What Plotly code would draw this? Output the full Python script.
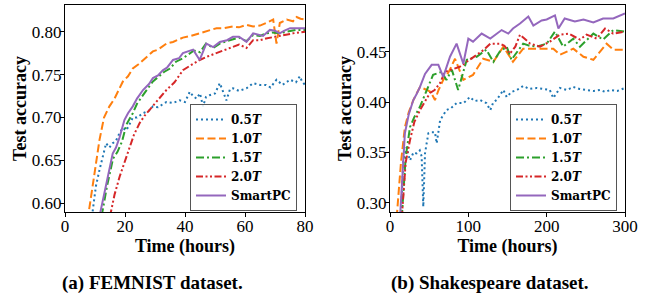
import plotly.graph_objects as go

# ---------------- FEMNIST data ----------------
fem_x_05 = [9, 10.3, 11.5, 12.6, 13.7, 14.8, 15.9, 17, 18.2, 19.3, 20.4, 21.5, 22.6, 24, 26, 28, 29.3, 31, 33.8, 36,
            38.2, 40, 41.6, 42.7, 43.8, 45, 46, 47, 48.2, 50, 51.6, 52.7, 53.8, 55, 56, 58, 60.5, 62.7, 65, 67,
            68.5, 70.5, 72.5, 75, 77, 78.3, 79, 80]
fem_y_05 = [0.585, 0.62, 0.639, 0.655, 0.67, 0.665, 0.67, 0.673, 0.682, 0.688, 0.685, 0.692, 0.70, 0.70, 0.705, 0.708,
            0.713, 0.712, 0.718, 0.717, 0.72, 0.718, 0.73, 0.725, 0.722, 0.728, 0.713, 0.724, 0.726, 0.728,
            0.74, 0.73, 0.72, 0.733, 0.734, 0.731, 0.734, 0.74, 0.738, 0.738, 0.735, 0.744, 0.738, 0.744, 0.741,
            0.748, 0.742, 0.738]
fem_x_10 = [7.5, 9.5, 11.5, 13, 14.8, 16.5, 18, 19.3, 21, 22.6, 24.5, 26, 28, 29.3, 31, 33.8, 36, 39.3, 42, 45,
            48, 50.5, 53, 56, 58, 60.5, 62.7, 65, 67, 69.4, 70.5, 71.6, 73.9, 76, 77.2, 78.5, 80]
fem_y_10 = [0.58, 0.63, 0.674, 0.70, 0.713, 0.722, 0.732, 0.742, 0.748, 0.757, 0.762, 0.767, 0.773, 0.777, 0.779,
            0.786, 0.788, 0.793, 0.795, 0.798, 0.801, 0.804, 0.804, 0.806, 0.805, 0.808, 0.806, 0.807, 0.81, 0.814,
            0.786, 0.81, 0.814, 0.812, 0.817, 0.815, 0.814]
fem_x_15 = [12.2, 14, 16, 17.5, 19, 20.5, 22.6, 24, 26, 28, 29.3, 31, 33, 35, 37, 39.3, 41, 43, 45, 47,
            49.4, 51.6, 54, 56, 58, 60.5, 62.7, 65, 67, 69, 71.6, 74, 77, 80]
fem_y_15 = [0.585, 0.62, 0.652, 0.66, 0.672, 0.692, 0.705, 0.716, 0.726, 0.736, 0.742, 0.747, 0.753, 0.757, 0.765,
            0.769, 0.773, 0.778, 0.776, 0.786, 0.781, 0.786, 0.789, 0.791, 0.793, 0.789, 0.796, 0.795, 0.798,
            0.799, 0.798, 0.8, 0.802, 0.802]
fem_x_20 = [15, 16.5, 18.2, 20, 21.5, 23, 24.8, 26.5, 28.2, 31, 33.8, 36.5, 39.3, 42, 44.9, 47.5, 50.5, 53, 56, 58,
            60.5, 62.7, 65, 67, 70, 72.8, 76, 80]
fem_y_20 = [0.585, 0.61, 0.631, 0.65, 0.666, 0.68, 0.693, 0.702, 0.709, 0.721, 0.732, 0.741, 0.755, 0.761, 0.767,
            0.771, 0.775, 0.779, 0.783, 0.785, 0.781, 0.79, 0.79, 0.792, 0.794, 0.796, 0.798, 0.80]
fem_x_sp = [11.5, 13.7, 15.9, 17, 18.2, 19.8, 21, 22.6, 24, 26, 28, 29.3, 31, 32.6, 34, 36, 38, 39.3, 41, 42.7,
            44.9, 47.1, 49.4, 51.6, 54, 56, 58, 60.5, 62.7, 64, 66, 68.3, 70, 71.6, 73, 75, 77, 80]
fem_y_sp = [0.585, 0.623, 0.658, 0.665, 0.677, 0.697, 0.705, 0.713, 0.722, 0.732, 0.739, 0.746, 0.749, 0.755,
            0.758, 0.767, 0.769, 0.775, 0.777, 0.779, 0.767, 0.786, 0.782, 0.788, 0.79, 0.794, 0.794, 0.788,
            0.798, 0.797, 0.795, 0.802, 0.801, 0.798, 0.801, 0.804, 0.804, 0.804]

# ---------------- Shakespeare data ----------------
shk_x_05 = [14, 17, 21, 25.5, 30, 34, 38, 40.4, 42.5, 44.7, 47, 49, 53, 57.4, 59.6, 64, 68, 72, 78, 85,
            94, 102, 108, 115, 120, 123, 128, 132, 136, 144.7, 149, 155, 162, 170, 178, 187, 196, 204, 208.5, 217,
            226, 234, 242, 251, 260, 268, 275, 281, 290, 300]
shk_y_05 = [0.29, 0.342, 0.355, 0.342, 0.35, 0.349, 0.352, 0.346, 0.296, 0.349, 0.36, 0.369, 0.37, 0.37, 0.359,
            0.382, 0.387, 0.392, 0.394, 0.399, 0.399, 0.405, 0.401, 0.402, 0.40, 0.399, 0.392, 0.40, 0.402, 0.412,
            0.405, 0.41, 0.412, 0.416, 0.413, 0.414, 0.413, 0.412, 0.404, 0.414, 0.412, 0.415, 0.413, 0.412,
            0.411, 0.412, 0.41, 0.412, 0.411, 0.414]
shk_x_10 = [8.5, 14, 19, 24, 29.8, 38.3, 47, 52, 57.4, 62, 68, 75, 83, 93.6, 106, 119, 132, 144.7, 157, 170,
            187, 208.5, 217, 234, 247, 259.6, 276.6, 285, 300]
shk_y_10 = [0.285, 0.34, 0.375, 0.39, 0.402, 0.415, 0.412, 0.41, 0.402, 0.412, 0.422, 0.43, 0.443, 0.422, 0.427,
            0.443, 0.44, 0.455, 0.44, 0.453, 0.453, 0.453, 0.447, 0.453, 0.445, 0.442, 0.458, 0.452, 0.452]
shk_x_15 = [15, 20, 25.5, 31, 38, 47, 55, 66, 72, 79, 87, 98, 110.6, 123, 132, 140, 149, 155, 162, 170,
            178, 187, 200, 210.6, 221, 234, 242.5, 251, 259.6, 272, 285, 300]
shk_y_15 = [0.285, 0.345, 0.375, 0.385, 0.395, 0.412, 0.427, 0.43, 0.422, 0.432, 0.412, 0.442, 0.445, 0.452,
            0.44, 0.45, 0.455, 0.442, 0.45, 0.458, 0.456, 0.455, 0.458, 0.47, 0.455, 0.463, 0.455, 0.462, 0.468,
            0.462, 0.4715, 0.47]
shk_x_20 = [15, 20, 25.5, 31, 38.3, 44, 51, 57, 64, 70, 77, 89, 98, 110.6, 120, 128, 140, 146, 153, 160,
            166, 179, 191.5, 204, 217, 228, 242.5, 251, 264, 274.5, 285, 300]
shk_y_20 = [0.285, 0.34, 0.362, 0.38, 0.392, 0.40, 0.409, 0.412, 0.419, 0.43, 0.432, 0.435, 0.44, 0.447, 0.452,
            0.458, 0.458, 0.456, 0.448, 0.455, 0.467, 0.458, 0.455, 0.46, 0.467, 0.468, 0.462, 0.467, 0.463,
            0.473, 0.468, 0.47]
shk_x_sp = [12.8, 19, 24, 29.8, 34, 38.3, 44.7, 53.2, 61.7, 68, 76.6, 85, 93.6, 100, 106, 117, 128, 142.5, 151, 157,
            166, 176.6, 183, 193.6, 200, 210.6, 215, 223, 236, 247, 259.6, 272, 285, 293, 300]
shk_y_sp = [0.285, 0.369, 0.388, 0.402, 0.408, 0.415, 0.428, 0.437, 0.437, 0.425, 0.445, 0.458, 0.438, 0.463,
            0.46, 0.468, 0.463, 0.4715, 0.468, 0.473, 0.478, 0.485, 0.476, 0.481, 0.482, 0.486, 0.473, 0.483,
            0.48, 0.482, 0.479, 0.483, 0.483, 0.486, 0.488]

series_names = ["<b>0.5<i>T</i></b>", "<b>1.0<i>T</i></b>", "<b>1.5<i>T</i></b>", "<b>2.0<i>T</i></b>", "<b>SmartPC</b>"]
colors = ["#1f77b4", "#ff7f0e", "#2ca02c", "#d62728", "#9467bd"]
dashes = ["2px,3px", "8px,3.5px", "8px,3px,2px,3px", "7px,2.5px,2px,2.5px,2px,2.5px", "solid"]

fem_x = [fem_x_05, fem_x_10, fem_x_15, fem_x_20, fem_x_sp]
fem_y = [fem_y_05, fem_y_10, fem_y_15, fem_y_20, fem_y_sp]
shk_x = [shk_x_05, shk_x_10, shk_x_15, shk_x_20, shk_x_sp]
shk_y = [shk_y_05, shk_y_10, shk_y_15, shk_y_20, shk_y_sp]

fig = go.Figure()
for i in range(5):
    fig.add_trace(go.Scatter(x=fem_x[i], y=fem_y[i], mode="lines", name=series_names[i],
                             line=dict(color=colors[i], width=2, dash=dashes[i]),
                             xaxis="x", yaxis="y", legend="legend"))
for i in range(5):
    fig.add_trace(go.Scatter(x=shk_x[i], y=shk_y[i], mode="lines", name=series_names[i],
                             line=dict(color=colors[i], width=2, dash=dashes[i]),
                             xaxis="x2", yaxis="y2", legend="legend2"))

W, H = 646, 303
def px(v):
    return v / W
def py(v):
    return 1 - v / H

serif = "'Liberation Serif', 'Times New Roman', Times, serif"
legfamily = "'DejaVu Serif', serif"
tickfont = dict(family=serif, size=17, color="black")
titlefont = dict(family=serif, size=18, color="black")

def xax(domain, rng, dtick, anchor):
    return dict(domain=domain, range=rng, dtick=dtick, tick0=0, anchor=anchor, automargin=False,
                showgrid=False, zeroline=False, showline=True, linecolor="black", linewidth=1,
                mirror=True, ticks="outside", ticklen=4, tickwidth=1, tickcolor="black",
                tickfont=tickfont, ticklabelstandoff=-5,
                title=dict(text="<b>Time (hours)</b>", font=titlefont, standoff=0))

def yax(domain, rng, dtick, anchor, fmt):
    return dict(domain=domain, range=rng, dtick=dtick, tick0=0, anchor=anchor, tickformat=fmt, automargin=False,
                showgrid=False, zeroline=False, showline=True, linecolor="black", linewidth=1,
                mirror=True, ticks="outside", ticklen=4, tickwidth=1, tickcolor="black",
                tickfont=tickfont, ticklabelstandoff=-5,
                title=dict(text="<b>Test accuracy</b>", font=titlefont, standoff=0))

ydom = [py(212), py(5)]
legend_style = dict(bgcolor="rgba(255,255,255,0.85)", bordercolor="#555555", borderwidth=1,
                    font=dict(family=legfamily, size=12, color="black"), itemwidth=30,
                    xanchor="left", yanchor="top", tracegroupgap=0)

fig.update_layout(
    width=W, height=H, margin=dict(l=0, r=0, t=0, b=0, autoexpand=False),
    paper_bgcolor="white", plot_bgcolor="white",
    xaxis=xax([px(65), px(305)], [0, 80], 20, "y"),
    yaxis=yax(ydom, [0.590, 0.831], 0.05, "x", ".2f"),
    xaxis2=xax([px(390), px(625)], [0, 300], 100, "y2"),
    yaxis2=yax(ydom, [0.2908, 0.4964], 0.05, "x2", ".2f"),
    legend=dict(x=px(190), y=py(104), **legend_style),
    legend2=dict(x=px(510), y=py(104), **legend_style),
    annotations=[
        dict(text="<b>(a) FEMNIST dataset.</b>", x=px(152), y=py(283), xref="paper", yref="paper",
             showarrow=False, xanchor="center", yanchor="middle",
             font=dict(family=serif, size=19, color="black")),
        dict(text="<b>(b) Shakespeare dataset.</b>", x=px(490), y=py(283), xref="paper", yref="paper",
             showarrow=False, xanchor="center", yanchor="middle",
             font=dict(family=serif, size=19, color="black")),
    ],
)

# remove the browser's default 8px body margin so the figure fills the window
fig.write_html("out.html", config={"displayModeBar": False},
               post_script="document.body.style.margin='0px';")
